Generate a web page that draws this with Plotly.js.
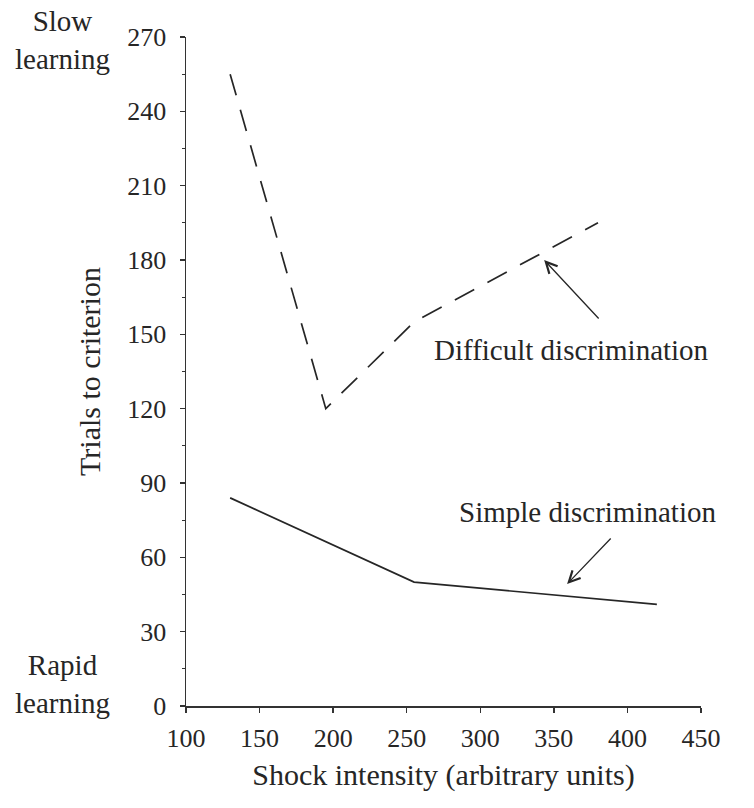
<!DOCTYPE html>
<html>
<head>
<meta charset="utf-8">
<script src="https://cdn.plot.ly/plotly-3.0.1.min.js"></script>
<style>html,body{margin:0;padding:0;background:#fff;}#chart{width:754px;height:808px;}</style>
</head>
<body>
<div id="chart"></div>
<script>
// Data
const difficultX = [130, 195, 255, 380];
const difficultY = [255, 120, 155, 195];
const simpleX = [130, 255, 420];
const simpleY = [84, 50, 41];
const xTickVals = [100, 150, 200, 250, 300, 350, 400, 450];
const yTickVals = [0, 30, 60, 90, 120, 150, 180, 210, 240, 270];

const FONT = 'Liberation Serif, Times New Roman, serif';
const INK = '#262626';
const TICK = 26, TITLE = 30, LABEL = 29;

const traces = [
  {x: difficultX, y: difficultY, mode: 'lines', name: 'Difficult discrimination',
   line: {color: INK, width: 1.7, dash: '22px,15px'}},
  {x: simpleX, y: simpleY, mode: 'lines', name: 'Simple discrimination',
   line: {color: INK, width: 1.7}}
];

const layout = {
  width: 754, height: 808,
  margin: {l: 186, r: 53, t: 37, b: 102},
  paper_bgcolor: '#fff', plot_bgcolor: '#fff',
  showlegend: false,
  font: {family: FONT, color: INK, size: TICK},
  xaxis: {
    range: [100, 450], autorange: false, tickvals: xTickVals,
    showgrid: false, zeroline: false, showline: true, linecolor: '#333', linewidth: 1.5,
    ticks: 'outside', ticklen: 5, tickwidth: 1.5, tickcolor: '#333',
    ticklabelstandoff: 3,
    tickfont: {family: FONT, size: TICK, color: INK},
    title: {text: 'Shock intensity (arbitrary units)', font: {family: FONT, size: TITLE, color: INK}, standoff: 12}
  },
  yaxis: {
    range: [0, 270], autorange: false, tickvals: yTickVals,
    showgrid: false, zeroline: false, showline: true, linecolor: '#333', linewidth: 1.5,
    ticks: 'outside', ticklen: 5, tickwidth: 1.5, tickcolor: '#333',
    ticklabelstandoff: 8,
    minor: {dtick: 15, tick0: 0, ticks: 'outside', ticklen: 3, tickwidth: 1.2, tickcolor: '#333', showgrid: false},
    tickfont: {family: FONT, size: TICK, color: INK},
    title: {text: 'Trials to criterion', font: {family: FONT, size: TITLE, color: INK}, standoff: 18}
  },
  annotations: [
    {xref: 'x', yref: 'y', x: 343.4, y: 180, axref: 'x', ayref: 'y', ax: 381.4, ay: 155.8,
     text: '', showarrow: true, arrowhead: 5, arrowsize: 1.7, arrowwidth: 1.3, arrowcolor: INK},
    {xref: 'x', yref: 'y', x: 361.7, y: 143.7, text: 'Difficult discrimination', showarrow: false,
     font: {family: FONT, size: LABEL, color: INK}},
    {xref: 'x', yref: 'y', x: 359, y: 49.2, axref: 'x', ayref: 'y', ax: 389.6, ay: 68.2,
     text: '', showarrow: true, arrowhead: 5, arrowsize: 1.7, arrowwidth: 1.3, arrowcolor: INK},
    {xref: 'x', yref: 'y', x: 372.6, y: 78.3, text: 'Simple discrimination', showarrow: false,
     font: {family: FONT, size: LABEL, color: INK}},
    {xref: 'paper', yref: 'paper', x: -0.24, y: 0.9955, xanchor: 'center', yanchor: 'middle',
     text: 'Slow<br>learning', showarrow: false,
     align: 'center', font: {family: FONT, size: LABEL, color: INK}},
    {xref: 'paper', yref: 'paper', x: -0.24, y: 0.033, xanchor: 'center', yanchor: 'middle',
     text: 'Rapid<br>learning', showarrow: false,
     align: 'center', font: {family: FONT, size: LABEL, color: INK}}
  ]
};

Plotly.newPlot('chart', traces, layout, {displayModeBar: false, staticPlot: true});
</script>
</body>
</html>
